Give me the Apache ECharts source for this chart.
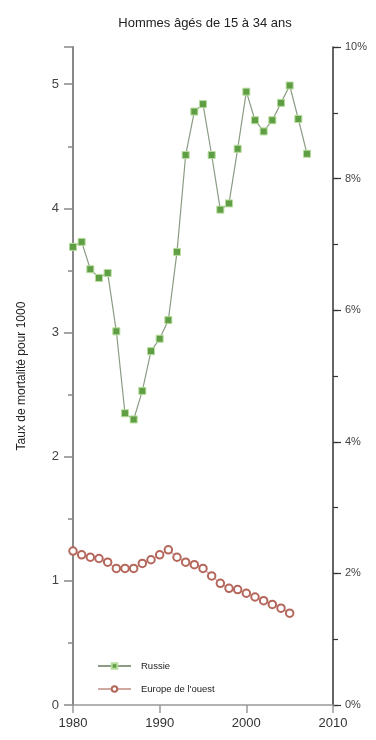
<!DOCTYPE html>
<html>
<head>
<meta charset="utf-8">
<script src="https://cdn.jsdelivr.net/npm/echarts@6/dist/echarts.min.js"></script>
<style>html,body{margin:0;padding:0;background:#fff}#c{width:376px;height:740px}</style>
</head>
<body>
<div id="c"></div>
<script>
var titleText = "Hommes âgés de 15 à 34 ans";
var yAxisName = "Taux de mortalité pour 1000";
var russiaYears = [1980,1981,1982,1983,1984,1985,1986,1987,1988,1989,1990,1991,1992,1993,1994,1995,1996,1997,1998,1999,2000,2001,2002,2003,2004,2005,2006,2007];
var russiaValues = [3.69,3.73,3.51,3.44,3.48,3.01,2.35,2.30,2.53,2.85,2.95,3.10,3.65,4.43,4.78,4.84,4.43,3.99,4.04,4.48,4.94,4.71,4.62,4.71,4.85,4.99,4.72,4.44];
var europeYears = [1980,1981,1982,1983,1984,1985,1986,1987,1988,1989,1990,1991,1992,1993,1994,1995,1996,1997,1998,1999,2000,2001,2002,2003,2004,2005];
var europeValues = [1.24,1.21,1.19,1.18,1.15,1.10,1.10,1.10,1.14,1.17,1.21,1.25,1.19,1.15,1.13,1.10,1.04,0.98,0.94,0.93,0.90,0.87,0.84,0.81,0.78,0.74];
var seriesNames = ["Russie", "Europe de l'ouest"];
var xTicks = [1980, 1990, 2000, 2010];

function pairs(xs, ys){ return xs.map(function(x,i){ return [x, ys[i]]; }); }

var chart = echarts.init(document.getElementById('c'));
var font = "'Liberation Sans', Arial, sans-serif";
chart.setOption({
  animation: false,
  backgroundColor: '#fff',
  title: {
    text: titleText, left: 200, top: 12, textAlign: 'center',
    textStyle: { fontFamily: font, fontSize: 13, fontWeight: 'normal', color: '#222' }
  },
  grid: { left: 73, right: 43, top: 47, bottom: 35 },
  legend: {
    orient: 'vertical', left: 92, top: 656, itemWidth: 33, itemHeight: 7, itemGap: 13,
    data: seriesNames,
    textStyle: { fontFamily: font, fontSize: 9.5, color: '#222', padding: [0,0,0,5] }
  },
  xAxis: {
    type: 'value', min: xTicks[0], max: xTicks[xTicks.length-1], interval: 10,
    axisLine: { lineStyle: { color: '#999', width: 1.5 } },
    axisTick: { show: true, length: 8, inside: false, lineStyle: { color: '#999', width: 1.5 } },
    axisLabel: { fontFamily: font, fontSize: 13, color: '#333', margin: 12, formatter: function(v){ return String(v); } },
    splitLine: { show: false }
  },
  yAxis: [{
    type: 'value', min: 0, max: 5.3, interval: 1, position: 'left',
    name: yAxisName, nameLocation: 'middle', nameGap: 45, nameRotate: 90,
    nameTextStyle: { fontFamily: font, fontSize: 12, color: '#222' },
    axisLine: { show: true, lineStyle: { color: '#888', width: 2 } },
    axisTick: { show: true, inside: false, length: 9, lineStyle: { color: '#888', width: 1.5 } },
    minorTick: { show: true, splitNumber: 2, length: 5, lineStyle: { color: '#888', width: 1.5 } },
    axisLabel: { fontFamily: font, fontSize: 13, color: '#444', margin: 14, showMaxLabel: false },
    splitLine: { show: false }
  }, {
    type: 'value', min: 0, max: 10, interval: 2, position: 'right',
    axisLine: { show: true, lineStyle: { color: '#333', width: 1.5 } },
    axisTick: { show: true, inside: false, length: 8, lineStyle: { color: '#333', width: 1.2 } },
    axisLabel: { fontFamily: font, fontSize: 11, color: '#444', margin: 12, formatter: '{value}%' },
    splitLine: { show: false }
  }, {
    type: 'value', min: 0, max: 10, interval: 1, position: 'right', offset: 0,
    axisLine: { show: false },
    axisTick: { show: true, inside: false, length: 5, lineStyle: { color: '#333', width: 1.2 } },
    axisLabel: { show: false },
    splitLine: { show: false }
  }],
  series: [{
    name: seriesNames[0], type: 'line', yAxisIndex: 0,
    data: pairs(russiaYears, russiaValues),
    symbol: 'rect', symbolSize: 7,
    lineStyle: { color: '#8c9c84', width: 1.2 },
    itemStyle: { color: '#5f9e45', borderColor: '#b5dc9a', borderWidth: 1 }
  }, {
    name: seriesNames[1], type: 'line', yAxisIndex: 0,
    data: pairs(europeYears, europeValues),
    symbol: 'emptyCircle', symbolSize: 7.5,
    lineStyle: { color: '#d0a8a2', width: 1.2 },
    itemStyle: { color: '#b5675c', borderColor: '#b5675c', borderWidth: 1 }
  }]
});
</script>
</body>
</html>
